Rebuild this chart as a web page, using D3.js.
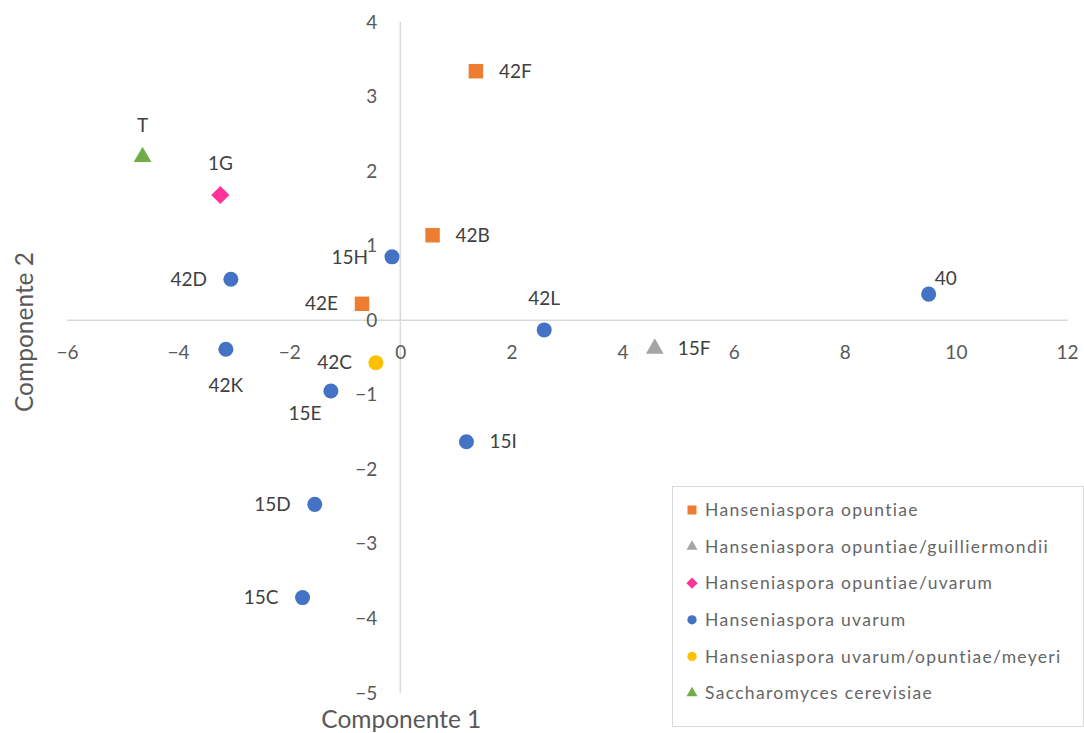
<!DOCTYPE html>
<html>
<head>
<meta charset="utf-8">
<script src="https://cdn.jsdelivr.net/npm/d3@7"></script>
<style>
  html, body { margin: 0; padding: 0; background: #fff; }
  svg { display: block; }
  text { font-family: Lato, "Open Sans", sans-serif; }
</style>
</head>
<body>
<svg id="chart" width="1084" height="733"></svg>
<script>
// ---- Data ----
const categories = [
  "Hanseniaspora opuntiae",
  "Hanseniaspora opuntiae/guilliermondii",
  "Hanseniaspora opuntiae/uvarum",
  "Hanseniaspora uvarum",
  "Hanseniaspora uvarum/opuntiae/meyeri",
  "Saccharomyces cerevisiae"
];
const categoryColors = ["#ED7D31", "#A5A5A5", "#FF3399", "#4472C4", "#FFC000", "#70AD47"];
const categoryShapes = ["square", "triangle", "diamond", "circle", "circle", "triangle"];

const pointLabels  = ["42F", "42B", "42E", "15F", "1G", "15H", "42D", "42K", "15E", "15D", "15C", "42L", "15I", "40", "42C", "T"];
const pointX       = [1.36, 0.58, -0.69, 4.58, -3.24, -0.15, -3.05, -3.14, -1.25, -1.54, -1.76, 2.59, 1.19, 9.51, -0.44, -4.64];
const pointY       = [3.34, 1.14, 0.22, -0.38, 1.68, 0.85, 0.55, -0.39, -0.95, -2.47, -3.72, -0.13, -1.63, 0.35, -0.57, 2.19];
const pointSpecies = [0, 0, 0, 1, 2, 3, 3, 3, 3, 3, 3, 3, 3, 3, 4, 5];
const labelSide    = ["right", "right", "left", "right", "above", "left", "left", "below", "belowLeft", "left", "left", "above", "right", "aboveRight", "left", "above"];

const xTicks = [-6, -4, -2, 0, 2, 4, 6, 8, 10, 12];
const yTicks = [-5, -4, -3, -2, -1, 0, 1, 2, 3, 4];
const xTitle = "Componente 1";
const yTitle = "Componente 2";

// ---- Chart ----
const svg = d3.select("#chart");
svg.append("rect").attr("width", 1084).attr("height", 733).attr("fill", "#fff");

const x = d3.scaleLinear().domain([-6, 12]).range([67, 1067]);
const y = d3.scaleLinear().domain([-5, 4]).range([693, 22]);

const axisColor = "#D9D9D9";
const textColor = "#595959";

// axis lines
svg.append("line").attr("x1", x(-6)).attr("x2", x(12) + 1).attr("y1", y(0)).attr("y2", y(0))
  .attr("stroke", axisColor).attr("stroke-width", 1.5);
svg.append("line").attr("x1", x(0)).attr("x2", x(0)).attr("y1", y(4)).attr("y2", y(-5))
  .attr("stroke", axisColor).attr("stroke-width", 1.5);

// x axis tick labels
const gx = svg.append("g").attr("transform", `translate(0,${y(0)})`)
  .call(d3.axisBottom(x).tickValues(xTicks).tickSize(0).tickPadding(25).tickFormat(d3.format("d")));
gx.select(".domain").remove();
gx.selectAll("text").attr("font-size", 19).attr("fill", textColor).attr("font-family", "Lato, sans-serif");

// y axis tick labels
const gy = svg.append("g").attr("transform", `translate(${x(0)},0)`)
  .call(d3.axisLeft(y).tickValues(yTicks).tickSize(0).tickPadding(23).tickFormat(d3.format("d")));
gy.select(".domain").remove();
gy.selectAll("text").attr("font-size", 19).attr("fill", textColor).attr("font-family", "Lato, sans-serif");

// axis titles
svg.append("text").attr("x", x(0) + 1).attr("y", 719).attr("dy", "0.35em")
  .attr("text-anchor", "middle").attr("font-size", 24.5).attr("fill", textColor).text(xTitle);
svg.append("text").attr("transform", "translate(24,332) rotate(-90)").attr("dy", "0.35em")
  .attr("text-anchor", "middle").attr("font-size", 24.5).attr("fill", textColor).text(yTitle);

// symbol helper
function symbolPath(shape, scale) {
  const s = scale || 1;
  if (shape === "square") return d3.symbol(d3.symbolSquare, 210 * s * s)();
  if (shape === "circle") return d3.symbol(d3.symbolCircle, 177 * s * s)();
  if (shape === "triangle") return d3.symbol(d3.symbolTriangle, 135 * s * s)();
  if (shape === "diamond") return d3.symbol(d3.symbolSquare, 165 * s * s)();
  return d3.symbol(d3.symbolCircle, 177 * s * s)();
}
function symbolTransform(shape, cx, cy) {
  return shape === "diamond" ? `translate(${cx},${cy}) rotate(45)` : `translate(${cx},${cy})`;
}

// points
const pts = pointLabels.map((lab, i) => ({
  label: lab, x: pointX[i], y: pointY[i], sp: pointSpecies[i], side: labelSide[i]
}));

svg.append("g").selectAll("path").data(pts).join("path")
  .attr("d", d => symbolPath(categoryShapes[d.sp]))
  .attr("transform", d => symbolTransform(categoryShapes[d.sp], x(d.x), y(d.y)))
  .attr("fill", d => categoryColors[d.sp]);

// data labels
const offsets = {
  right: [23, 0, "start"],
  left: [-24, 0, "end"],
  above: [0, -32, "middle"],
  below: [0, 36, "middle"],
  belowLeft: [-26, 22, "middle"],
  aboveRight: [6, -16, "start"]
};
svg.append("g").selectAll("text").data(pts).join("text")
  .attr("x", d => x(d.x) + offsets[d.side][0])
  .attr("y", d => y(d.y) + offsets[d.side][1])
  .attr("dy", "0.35em")
  .attr("text-anchor", d => offsets[d.side][2])
  .attr("font-size", 19).attr("fill", "#404040")
  .text(d => d.label);

// legend
const lg = svg.append("g");
lg.append("rect").attr("x", 672.5).attr("y", 486.5).attr("width", 411).attr("height", 240)
  .attr("fill", "#fff").attr("stroke", axisColor).attr("stroke-width", 1);
categories.forEach((c, i) => {
  const cy = 510 + i * 36.6;
  lg.append("path").attr("d", symbolPath(categoryShapes[i], 0.62))
    .attr("transform", symbolTransform(categoryShapes[i], 692, cy))
    .attr("fill", categoryColors[i]);
  lg.append("text").attr("x", 705).attr("y", cy).attr("dy", "0.35em")
    .attr("font-size", 17.5).attr("letter-spacing", 1.3).attr("fill", "#666666").text(c);
});
</script>
</body>
</html>
